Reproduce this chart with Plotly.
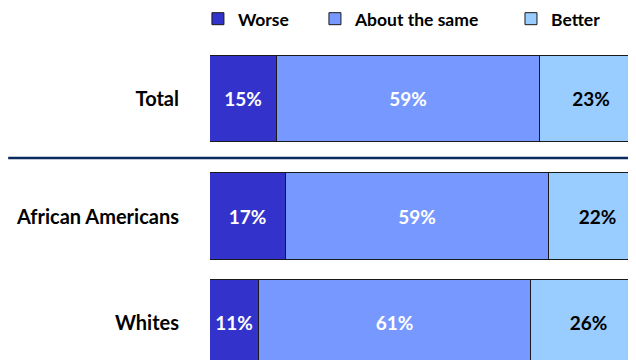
import plotly.graph_objects as go

categories = ["Total", "African Americans", "Whites"]
worse = [15, 17, 11]
same = [59, 59, 61]
better = [23, 22, 26]
series_names = ["Worse", "About the same", "Better"]

colors = ["#3333CC", "#7799FF", "#99CCFF"]
text_colors = ["white", "white", "black"]
ypos = [2.103, 1.0, 0.0]
legend_ids = ["legend", "legend2", "legend3"]
legend_x = [-0.0278, 0.2418, 0.6935]

fig = go.Figure()
for name, vals, col, tc, lid in zip(series_names, [worse, same, better], colors, text_colors, legend_ids):
    fig.add_trace(go.Bar(
        name=name, y=ypos, x=vals, orientation="h",
        marker=dict(color=col, line=dict(color="#1a1a1a", width=1)),
        width=0.81,
        text=[f"{v}%" for v in vals], textposition="inside",
        insidetextanchor="middle",
        textfont=dict(family="Lato", size=19, color=tc, weight="bold"),
        legend=lid,
    ))

leg_common = dict(orientation="h", xanchor="left", y=1.02, yanchor="top",
                  font=dict(family="Lato", size=17.5, color="black", weight="bold"),
                  bgcolor="rgba(0,0,0,0)")

fig.update_layout(
    barmode="stack",
    width=636, height=360,
    margin=dict(l=202, r=0, t=0, b=0, autoexpand=False),
    plot_bgcolor="white", paper_bgcolor="white",
    bargap=0,
    font=dict(family="Lato", color="black"),
    showlegend=True,
    legend=dict(x=legend_x[0], **leg_common),
    legend2=dict(x=legend_x[1], **leg_common),
    legend3=dict(x=legend_x[2], **leg_common),
    xaxis=dict(range=[0, 97.3], visible=False, fixedrange=True),
    yaxis=dict(range=[-0.4225, 2.958], tickvals=ypos, ticktext=categories,
               showgrid=False, zeroline=False, showline=False, ticks="",
               ticklabelstandoff=30,
               tickfont=dict(family="Lato", size=20, color="black", weight="bold")),
    shapes=[dict(type="line", xref="paper", yref="y", x0=-0.465, x1=1.0, y0=1.549, y1=1.549,
                 line=dict(color="#0b2a5e", width=2.5))],
)

fig.write_html("out.html")
